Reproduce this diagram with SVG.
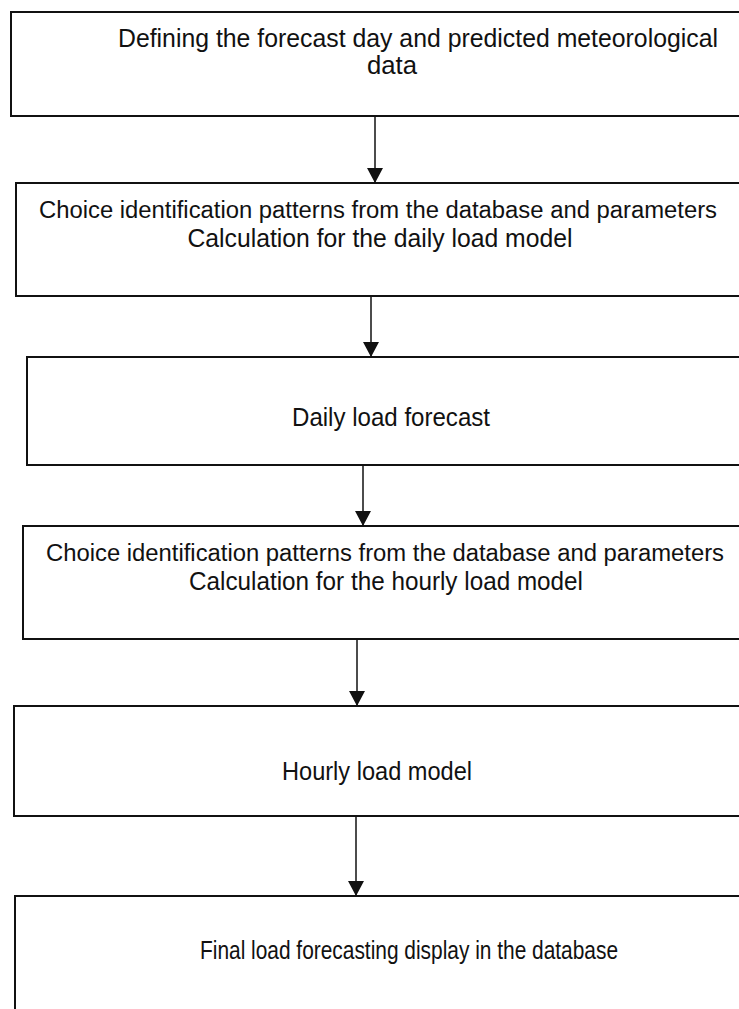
<svg xmlns="http://www.w3.org/2000/svg" width="739" height="1009" viewBox="0 0 739 1009">
<style>
.box{fill:#fff;stroke:#111;stroke-width:2}
.t{font-family:"Liberation Sans",Arial,sans-serif;font-size:25px;fill:#111;text-anchor:middle}
.l{font-size:23px}
.c{stroke:#111;stroke-width:1.5;fill:none;marker-end:url(#ah)}
</style>
<defs>
<marker id="ah" markerUnits="userSpaceOnUse" markerWidth="16" markerHeight="18" refX="15" refY="8" orient="auto" viewBox="0 0 16 16">
<path d="M0,0 L15,8 L0,16 Z" fill="#111"/>
</marker>
</defs>
<rect width="739" height="1009" fill="#fff"/>
<g id="n1">
<rect class="box" x="11" y="12" width="740" height="104"/>
<text class="t" x="418" y="47" textLength="600" lengthAdjust="spacingAndGlyphs">Defining the forecast day and predicted meteorological</text>
<text class="t" x="392" y="74" textLength="50" lengthAdjust="spacingAndGlyphs">data</text>
</g>
<g id="n2">
<rect class="box" x="16" y="183" width="740" height="113"/>
<text class="t l" x="378" y="218" textLength="678" lengthAdjust="spacingAndGlyphs">Choice identification patterns from the database and parameters</text>
<text class="t" x="380" y="247" textLength="385" lengthAdjust="spacingAndGlyphs">Calculation for the daily load model</text>
</g>
<g id="n3">
<rect class="box" x="27" y="357" width="740" height="108"/>
<text class="t" x="391" y="426" textLength="198" lengthAdjust="spacingAndGlyphs">Daily load forecast</text>
</g>
<g id="n4">
<rect class="box" x="23" y="526" width="740" height="113"/>
<text class="t l" x="385" y="561" textLength="678" lengthAdjust="spacingAndGlyphs">Choice identification patterns from the database and parameters</text>
<text class="t" x="386" y="590" textLength="394" lengthAdjust="spacingAndGlyphs">Calculation for the hourly load model</text>
</g>
<g id="n5">
<rect class="box" x="14" y="706" width="740" height="110"/>
<text class="t" x="377" y="780" textLength="190" lengthAdjust="spacingAndGlyphs">Hourly load model</text>
</g>
<g id="n6">
<rect class="box" x="15" y="896" width="740" height="130"/>
<text class="t" x="409" y="959" textLength="418" lengthAdjust="spacingAndGlyphs">Final load forecasting display in the database</text>
</g>
<g id="connectors">
<line class="c" x1="375" y1="116" x2="375" y2="183"/>
<line class="c" x1="371" y1="296" x2="371" y2="357"/>
<line class="c" x1="363" y1="465" x2="363" y2="526"/>
<line class="c" x1="357" y1="639" x2="357" y2="706"/>
<line class="c" x1="356" y1="816" x2="356" y2="896"/>
</g>
</svg>
